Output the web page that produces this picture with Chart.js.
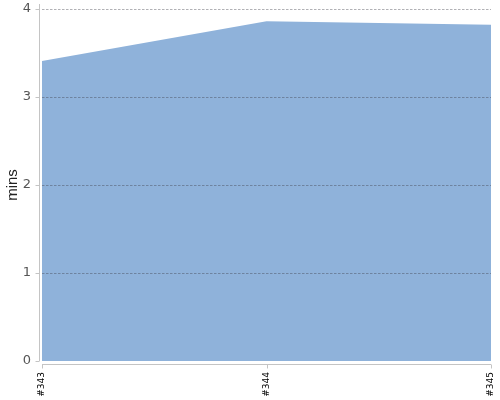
<!DOCTYPE html>
<html>
<head>
<meta charset="utf-8">
<script src="https://cdn.jsdelivr.net/npm/chart.js@4/dist/chart.umd.min.js"></script>
<style>
html,body{margin:0;padding:0;background:#fff;}
#wrap{width:500px;height:400px;}
</style>
</head>
<body>
<div id="wrap"><canvas id="c" width="500" height="400"></canvas></div>
<script>
const categories = ['#343', '#344', '#345'];
const durationMins = [3.41, 3.86, 3.82];
const yTicks = [0, 1, 2, 3, 4];

const axisPlugin = {
  id: 'axisLines',
  afterDraw(chart) {
    const ctx = chart.ctx;
    const a = chart.chartArea;
    const ys = chart.scales.y, xs = chart.scales.x;
    ctx.save();
    ctx.strokeStyle = '#c4c4c4';
    ctx.lineWidth = 1;
    ctx.beginPath();
    const ax = Math.round(a.left - 3) + 0.5;
    ctx.moveTo(ax, a.top - 5);
    ctx.lineTo(ax, a.bottom);
    yTicks.forEach(v => {
      const py = Math.round(ys.getPixelForValue(v)) + 0.5;
      ctx.moveTo(ax - 4, py);
      ctx.lineTo(ax, py);
    });
    const by = Math.round(a.bottom + 3) + 0.5;
    ctx.moveTo(a.left, by);
    ctx.lineTo(a.right, by);
    categories.forEach((c, i) => {
      const px = Math.round(xs.getPixelForValue(i)) + 0.5;
      ctx.moveTo(px, by);
      ctx.lineTo(px, by + 4);
    });
    ctx.stroke();
    ctx.restore();
  }
};

new Chart(document.getElementById('c'), {
  type: 'line',
  data: {
    labels: categories,
    datasets: [{
      data: durationMins,
      fill: 'origin',
      backgroundColor: '#8FB2DA',
      borderWidth: 0,
      borderColor: 'rgba(0,0,0,0)',
      pointRadius: 0,
      tension: 0
    }]
  },
  options: {
    responsive: false,
    animation: false,
    devicePixelRatio: 1,
    layout: { padding: { top: 9, right: 9, left: 0, bottom: 0 } },
    plugins: { legend: { display: false }, tooltip: { enabled: false } },
    scales: {
      x: {
        type: 'category',
        offset: false,
        border: { display: false },
        grid: { display: false, drawTicks: false },
        ticks: {
          minRotation: 90, maxRotation: 90, padding: 11,
          font: { family: 'DejaVu Sans', size: 9 }, color: '#000'
        },
        afterFit(s) { s.height = 39; s.paddingLeft = 0; s.paddingRight = 0; }
      },
      y: {
        min: 0, max: 4,
        border: { display: false, dash: [2.5, 1.5] },
        afterBuildTicks(s) { s.ticks = yTicks.map(v => ({ value: v })); },
        grid: {
          z: 1,
          drawTicks: false,
          color: ctx => ctx.tick && ctx.tick.value === 0 ? 'rgba(0,0,0,0)' : 'rgba(60,60,70,0.4)',
          lineWidth: 1
        },
        ticks: {
          padding: 11,
          font: { family: 'DejaVu Sans', size: 13 }, color: '#555'
        },
        title: {
          display: true, text: 'mins',
          font: { family: 'Liberation Sans', size: 15 }, color: '#222',
          padding: { top: 4, bottom: 0 }
        },
        afterFit(s) { s.width = 42; s.paddingTop = 0; s.paddingBottom = 0; }
      }
    }
  },
  plugins: [axisPlugin]
});
</script>
</body>
</html>
